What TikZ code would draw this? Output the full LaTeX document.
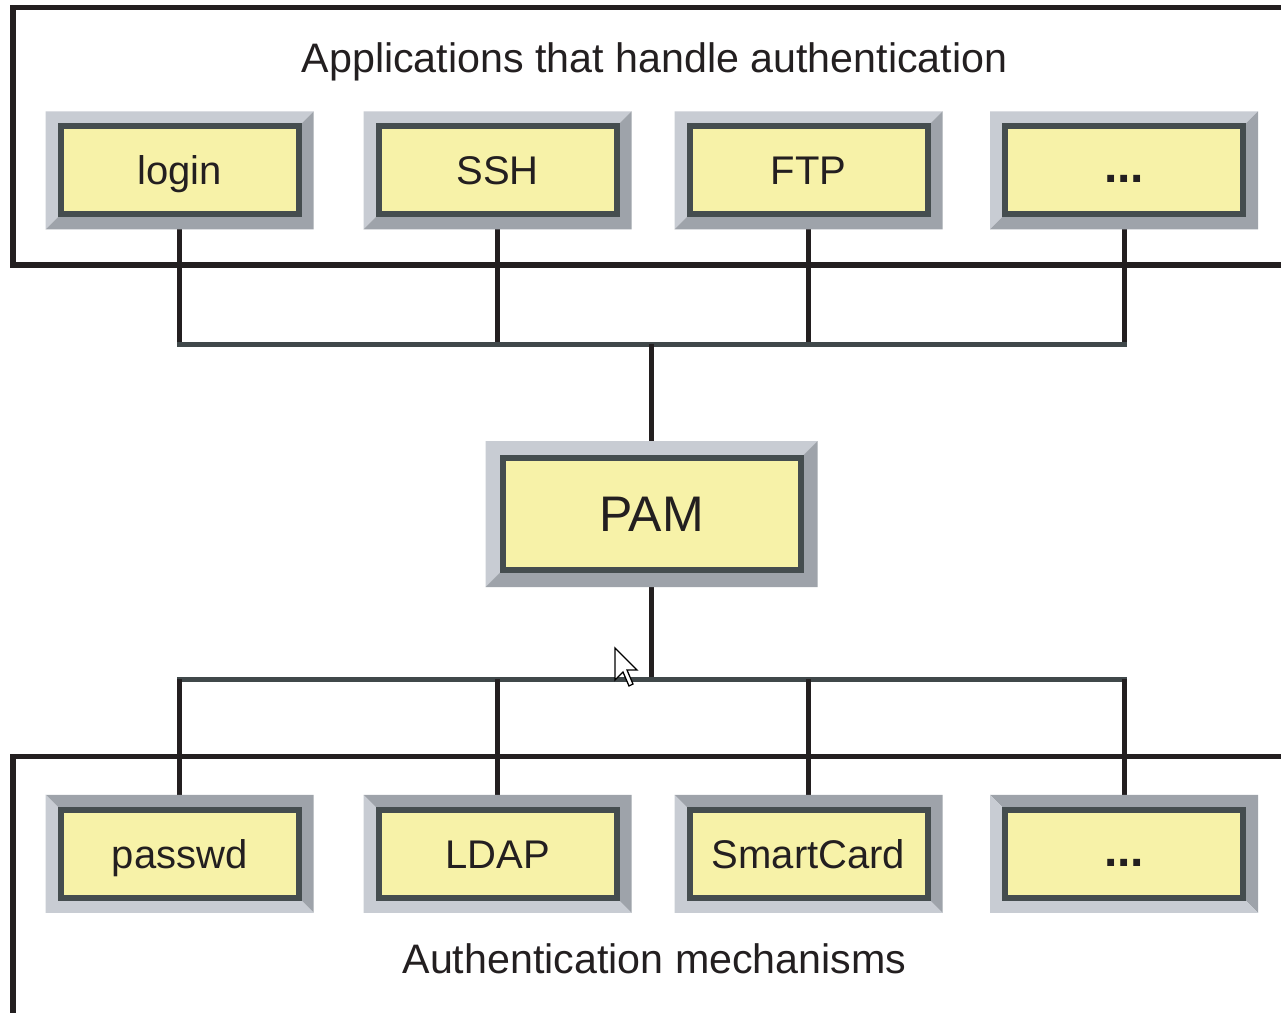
\documentclass[tikz,border=0pt]{standalone}
\usepackage{fontspec}
\setmainfont{Liberation Sans}
\usetikzlibrary{calc}
\pgfdeclarelayer{paper}
\pgfdeclarelayer{wires}
\pgfdeclarelayer{bevels}
\pgfsetlayers{paper,wires,bevels,main}

\definecolor{boxfill}{RGB}{247,242,168}
\definecolor{boxborder}{RGB}{69,77,79}
\definecolor{bevlight}{RGB}{200,204,211}
\definecolor{bevdark}{RGB}{158,163,170}
\definecolor{ink}{RGB}{35,31,32}
\definecolor{busgray}{RGB}{64,72,74}

% raised bevel: light top/left, dark right/bottom
\newcommand\raisedbevel[2]{%
  \fill[bevlight] ($(#1.north west)+(-#2,-#2)$) -- ($(#1.north east)+(#2,-#2)$)
    -- (#1.north east) -- (#1.north west) -- (#1.south west)
    -- ($(#1.south west)+(-#2,#2)$) -- cycle;
  \fill[bevdark] ($(#1.north east)+(#2,-#2)$) -- ($(#1.south east)+(#2,#2)$)
    -- ($(#1.south west)+(-#2,#2)$) -- (#1.south west) -- (#1.south east)
    -- (#1.north east) -- cycle;}
% sunken bevel: dark top/right, light left/bottom
\newcommand\sunkenbevel[2]{%
  \fill[bevdark] ($(#1.north west)+(-#2,-#2)$) -- ($(#1.north east)+(#2,-#2)$)
    -- ($(#1.south east)+(#2,#2)$) -- (#1.south east) -- (#1.north east)
    -- (#1.north west) -- cycle;
  \fill[bevlight] ($(#1.north west)+(-#2,-#2)$) -- (#1.north west) -- (#1.south west)
    -- (#1.south east) -- ($(#1.south east)+(#2,#2)$)
    -- ($(#1.south west)+(-#2,#2)$) -- cycle;}

\tikzset{
  modbox/.style={rectangle, draw=boxborder, line width=6pt, fill=boxfill,
    minimum width=238pt, minimum height=88pt, inner sep=0pt, outer sep=0pt,
    font=\fontsize{40}{40}\selectfont, text=ink, text height=28.6pt, text depth=0pt},
  pambox/.style={modbox, minimum width=298pt, minimum height=112pt,
    font=\fontsize{50}{50}\selectfont, text height=35.8pt},
  morebox/.style={modbox, font=\fontsize{48}{48}\selectfont\bfseries, text height=25pt},
  frame/.style={draw=ink, line width=5.5pt},
  title/.style={anchor=base, inner sep=0pt, text=ink},
  vwire/.style={draw=ink, line width=5pt},
  hwire/.style={draw=busgray, line width=5pt, line cap=rect},
}

\begin{document}
\begin{tikzpicture}[x=1pt, y=-1pt]
\clip (0,0) rectangle (1281,1012);
\begin{pgfonlayer}{paper}
  \fill[white] (0,0) rectangle (1281,1012);
\end{pgfonlayer}

% group frames
\draw[frame] (13,7.7) rectangle (1300,265);
\draw[frame] (13,756.7) rectangle (1300,1040);

% group titles
\node[title, font=\fontsize{41.2}{41.2}\selectfont] (apptitle) at (654.5,72)
  {Applications that handle authentication};
\node[title, font=\fontsize{41.2}{41.2}\selectfont] (mechtitle) at (654.5,973)
  {Authentication mechanisms};

% applications
\node[modbox]  (login)   at (179.7,170.3) {login};
\node[modbox]  (ssh)     at (497.5,170.3) {SSH};
\node[modbox]  (ftp)     at (808.5,170.3) {FTP};
\node[morebox] (appmore) at (1124,170.3)  {...};

% PAM
\node[pambox] (pam) at (651.5,514) {PAM};

% mechanisms
\node[modbox]  (passwd)    at (179.7,853.8) {passwd};
\node[modbox]  (ldap)      at (497.5,853.8) {LDAP};
\node[modbox]  (smartcard) at (808.5,853.8) {SmartCard};
\node[morebox] (mechmore)  at (1124,853.8)  {...};

\coordinate (topbus) at (651.5,344);
\coordinate (botbus) at (651.5,679);

\begin{pgfonlayer}{bevels}
  \foreach \n in {login,ssh,ftp,appmore} {\raisedbevel{\n}{15}}
  \raisedbevel{pam}{17}
  \foreach \n in {passwd,ldap,smartcard,mechmore} {\sunkenbevel{\n}{15}}
\end{pgfonlayer}

\begin{pgfonlayer}{wires}
  \foreach \n in {login,ssh,ftp,appmore}
    \draw[vwire] (\n.south) -- (\n.south |- topbus);
  \draw[hwire] (login.south |- topbus) -- (appmore.south |- topbus);
  \draw[vwire] (topbus) -- (pam.north);
  \draw[vwire] (pam.south) -- (botbus);
  \draw[hwire] (passwd.north |- botbus) -- (mechmore.north |- botbus);
  \foreach \n in {passwd,ldap,smartcard,mechmore}
    \draw[vwire] (\n.north |- botbus) -- (\n.north);
\end{pgfonlayer}

% mouse pointer
\filldraw[fill=white, draw=black, line width=1.3pt, line join=miter]
  (615,648) -- ++(0,32) -- ++(8,-8) -- ++(6,14) -- ++(4,-2) -- ++(-6,-14)
  -- ++(10,0) -- cycle;
\end{tikzpicture}
\end{document}
